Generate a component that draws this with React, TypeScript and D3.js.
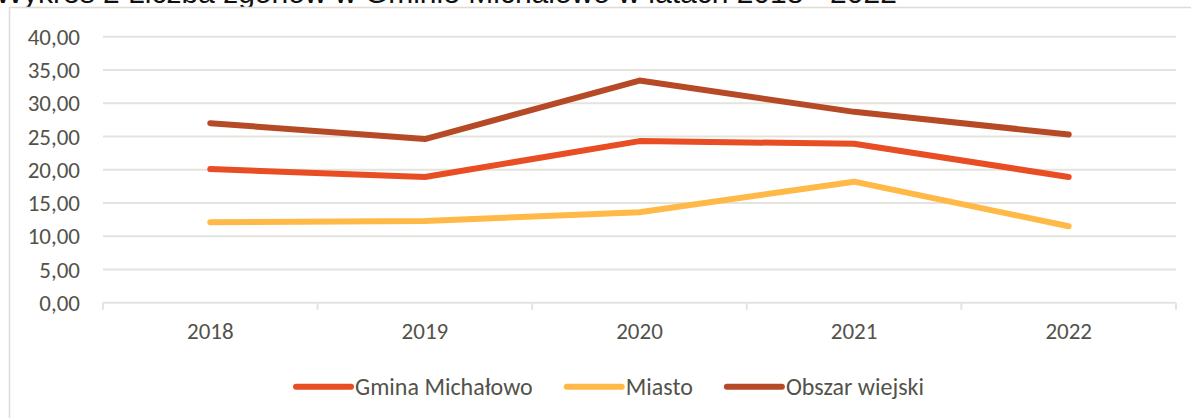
import React, { useEffect, useRef } from 'react';
import * as d3 from 'd3';

const years = ['2018', '2019', '2020', '2021', '2022'];
const gmina = [20.1, 18.9, 24.3, 23.9, 18.9];
const miasto = [12.1, 12.3, 13.6, 18.2, 11.5];
const obszar = [27.0, 24.6, 33.4, 28.7, 25.3];
const yTicks = [0, 5, 10, 15, 20, 25, 30, 35, 40];
const seriesNames = ['Gmina Michałowo', 'Miasto', 'Obszar wiejski'];
const title = 'Wykres 2 Liczba zgonów w Gminie Michałowo w latach 2018 - 2022';

const W = 1191;
const H = 418;
const FONT = 'Carlito, Lato, sans-serif';
const TEXT = '#53524a';
const GRID = '#e4e3de';

const App: React.FC = () => {
  const svgRef = useRef<SVGSVGElement>(null);

  useEffect(() => {
    if (!svgRef.current) return;
    const svg = d3.select(svgRef.current);
    svg.selectAll('*').remove();

    const series = [
      { name: seriesNames[0], values: gmina, color: '#e84d23' },
      { name: seriesNames[1], values: miasto, color: '#ffb947' },
      { name: seriesNames[2], values: obszar, color: '#b64a27' },
    ];

    // title line above the chart (only its lower edge shows)
    svg.append('text')
      .attr('x', -5)
      .attr('y', 3)
      .attr('font-family', 'Liberation Sans, Arial, sans-serif')
      .attr('font-size', 30)
      .attr('fill', '#111')
      .text(title);

    // chart box
    svg.append('rect')
      .attr('x', 9.5)
      .attr('y', 7.5)
      .attr('width', W)
      .attr('height', H)
      .attr('fill', '#fff')
      .attr('stroke', '#dddcd6')
      .attr('stroke-width', 1.5);

    const x = d3.scaleBand<string>().domain(years).range([103, 1176]);
    const y = d3.scaleLinear().domain([0, 40]).range([302.7, 36.7]);
    const cx = (d: string) => (x(d) || 0) + x.bandwidth() / 2;

    // gridlines
    svg.append('g')
      .selectAll('line')
      .data(yTicks.filter(t => t > 0))
      .join('line')
      .attr('x1', 103)
      .attr('x2', 1176)
      .attr('y1', d => y(d))
      .attr('y2', d => y(d))
      .attr('stroke', GRID)
      .attr('stroke-width', 2);

    // y labels
    svg.append('g')
      .selectAll('text')
      .data(yTicks)
      .join('text')
      .attr('x', 80)
      .attr('y', d => y(d))
      .attr('dy', '0.35em')
      .attr('text-anchor', 'end')
      .attr('font-family', FONT)
      .attr('font-size', 23)
      .attr('fill', TEXT)
      .text(d => d3.format('.2f')(d).replace('.', ','));

    // x axis
    const axis = svg.append('g').attr('transform', `translate(0,${y(0)})`);
    axis.append('line')
      .attr('x1', 103)
      .attr('x2', 1176)
      .attr('stroke', GRID)
      .attr('stroke-width', 2);
    const bounds = years.map(d => x(d) || 0).concat([1176]);
    axis.selectAll('line.tick')
      .data(bounds)
      .join('line')
      .attr('class', 'tick')
      .attr('x1', d => d)
      .attr('x2', d => d)
      .attr('y1', 0)
      .attr('y2', 7)
      .attr('stroke', GRID)
      .attr('stroke-width', 2);
    axis.selectAll('text')
      .data(years)
      .join('text')
      .attr('x', d => cx(d))
      .attr('y', 28.5)
      .attr('dy', '0.35em')
      .attr('text-anchor', 'middle')
      .attr('font-family', FONT)
      .attr('font-size', 23)
      .attr('fill', TEXT)
      .text(d => d);

    // lines
    const line = d3.line<number>()
      .x((_, i) => cx(years[i]))
      .y(d => y(d));

    svg.append('g')
      .selectAll('path')
      .data(series)
      .join('path')
      .attr('d', d => line(d.values))
      .attr('fill', 'none')
      .attr('stroke', d => d.color)
      .attr('stroke-width', 6)
      .attr('stroke-linecap', 'round')
      .attr('stroke-linejoin', 'round');

    // legend, measured and centred
    const legend = svg.append('g');
    const items = legend.selectAll('g')
      .data(series)
      .join('g');
    items.append('line')
      .attr('x1', 0)
      .attr('x2', 55)
      .attr('stroke', d => d.color)
      .attr('stroke-width', 6)
      .attr('stroke-linecap', 'round');
    items.append('text')
      .attr('x', 59)
      .attr('dy', '0.35em')
      .attr('font-family', FONT)
      .attr('font-size', 24)
      .attr('fill', TEXT)
      .text(d => d.name);

    let offset = 0;
    const positions: number[] = [];
    items.each(function () {
      const t = d3.select(this).select('text').node() as SVGTextElement;
      positions.push(offset);
      offset += 59 + t.getComputedTextLength() + 34;
    });
    offset -= 34;
    const start = 610 - offset / 2;
    items.attr('transform', (_, i) => `translate(${start + positions[i]},386.7)`);
  }, []);

  return (
    <div style={{ position: 'fixed', left: 0, top: 0, width: W, height: H, background: '#fff' }}>
      <svg ref={svgRef} width={W} height={H} style={{ display: 'block' }} />
    </div>
  );
};

export default App;
